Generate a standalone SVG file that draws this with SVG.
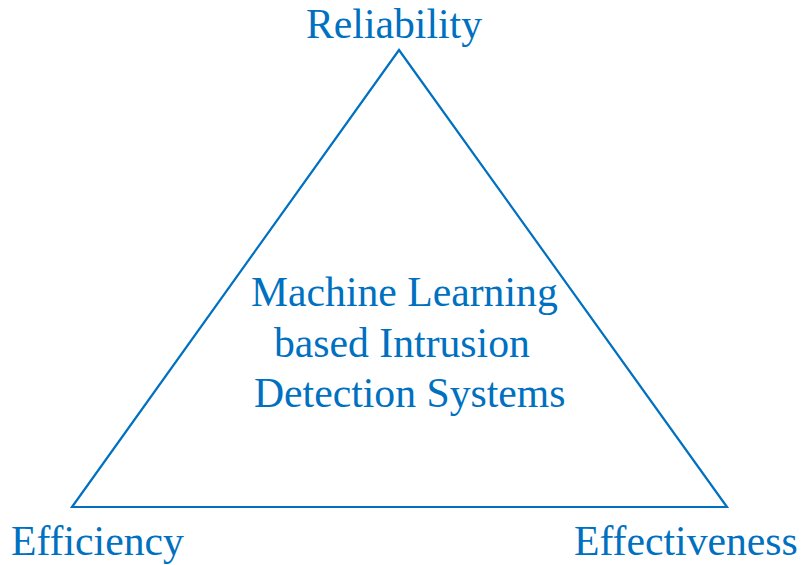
<svg xmlns="http://www.w3.org/2000/svg" width="801" height="565" viewBox="0 0 801 565">
  <style>
    .lbl { font-family: "Liberation Serif", "Times New Roman", serif; font-size: 41.7px; fill: #0070C0; }
    .edge { fill: none; stroke: #0070C0; stroke-width: 2.2; stroke-linejoin: miter; }
  </style>
  <rect width="801" height="565" fill="#ffffff"/>
  <g id="connectors">
    <polygon class="edge" points="399,50 727,507 72,507"/>
  </g>
  <g id="reliability">
    <text class="lbl" x="306" y="38">Reliability</text>
  </g>
  <g id="efficiency">
    <text class="lbl" x="11" y="555">Efficiency</text>
  </g>
  <g id="effectiveness">
    <text class="lbl" x="574" y="555">Effectiveness</text>
  </g>
  <g id="ml-ids">
    <text class="lbl" x="251" y="306">Machine Learning</text>
    <text class="lbl" x="274" y="357">based Intrusion</text>
    <text class="lbl" x="254" y="407">Detection Systems</text>
  </g>
</svg>
